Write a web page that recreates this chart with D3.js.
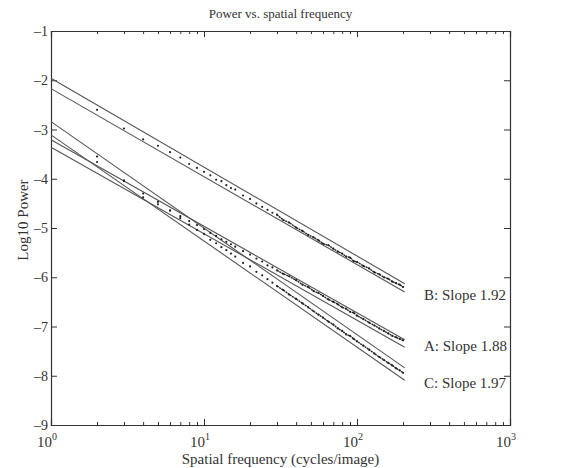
<!DOCTYPE html>
<html>
<head>
<meta charset="utf-8">
<script src="https://cdn.jsdelivr.net/npm/d3@7"></script>
<style>
  body { margin: 0; background: #fff; }
  svg { font-family: "Liberation Serif", "DejaVu Serif", serif; }
  .axis path { stroke: #333; }
  .axis line { stroke: #333; }
</style>
</head>
<body>
<svg width="569" height="468"></svg>
<script>
// DATA

var freq = [2,3,4,5,6,7,8,9,10,11,12,13,14,15,16,18,20,22,24,26,28,30,33,36,40,
            44,48,52,56,60,65,70,75,80,85,90,95,100,110,120,130,140,150,160,170,180,190,200];

var powerB = [-2.60,-2.98,-3.20,-3.33,-3.46,-3.57,-3.70,-3.78,-3.86,-3.93,-4.02,-4.05,-4.13,-4.19,-4.22,
              -4.34,-4.41,-4.50,-4.57,-4.63,-4.69,-4.73,-4.84,-4.89,-4.99,-5.06,-5.14,-5.19,-5.25,-5.32,
              -5.35,-5.42,-5.48,-5.52,-5.58,-5.60,-5.67,-5.69,-5.77,-5.82,-5.90,-5.94,-6.00,-6.03,-6.09,
              -6.12,-6.15,-6.20];

var powerA = [-3.66,-4.05,-4.38,-4.52,-4.64,-4.76,-4.86,-4.94,-5.02,-5.10,-5.16,-5.23,-5.28,-5.33,-5.38,
              -5.47,-5.54,-5.62,-5.68,-5.76,-5.80,-5.86,-5.93,-5.98,-6.06,-6.15,-6.20,-6.28,-6.32,-6.38,
              -6.45,-6.50,-6.55,-6.61,-6.64,-6.70,-6.72,-6.78,-6.85,-6.92,-6.98,-7.04,-7.09,-7.14,-7.19,
              -7.22,-7.25,-7.28];

var powerC = [-3.55,-4.03,-4.30,-4.47,-4.65,-4.80,-4.93,-5.04,-5.12,-5.24,-5.31,-5.39,-5.45,-5.52,-5.58,
              -5.71,-5.78,-5.89,-5.96,-6.04,-6.11,-6.18,-6.26,-6.35,-6.44,-6.53,-6.61,-6.69,-6.76,-6.82,
              -6.90,-6.96,-7.04,-7.09,-7.16,-7.19,-7.25,-7.30,-7.39,-7.47,-7.55,-7.62,-7.68,-7.74,-7.79,
              -7.85,-7.89,-7.94];

// fitted lines: value at f = 1 and at f = 200
var fitRange = [1, 205];
var fitStart = [-1.96, -2.17, -3.21, -3.36, -2.84, -3.11];
var fitEnd   = [-6.13, -6.30, -7.27, -7.42, -7.84, -8.09];

var labels = ["B: Slope 1.92", "A: Slope 1.88", "C: Slope 1.97"];
var labelAt = [-6.36, -7.40, -8.15];

var xTicks = [1, 10, 100, 1000];
var yTicks = [-9, -8, -7, -6, -5, -4, -3, -2, -1];

// SETUP

var svg = d3.select("svg");
var mLeft = 51, mRight = 510, mTop = 31, mBottom = 425;

var x = d3.scaleLog().domain([1, 1000]).range([mLeft, mRight]);
var y = d3.scaleLinear().domain([-9, -1]).range([mBottom, mTop]);

var minor = [];
[1, 10, 100].forEach(function(d) {
  for (var k = 2; k < 10; k++) minor.push(d * k);
});

// AXES (matlab style, ticks inside, box all round)

svg.append("g").attr("class", "axis")
    .attr("transform", "translate(0," + mBottom + ")")
    .call(d3.axisBottom(x).tickValues(xTicks).tickSize(-6).tickFormat(""));
svg.append("g").attr("class", "axis")
    .attr("transform", "translate(0," + mBottom + ")")
    .call(d3.axisBottom(x).tickValues(minor).tickSize(-3).tickFormat(""))
    .select(".domain").remove();
svg.append("g").attr("class", "axis")
    .attr("transform", "translate(0," + mTop + ")")
    .call(d3.axisTop(x).tickValues(xTicks).tickSize(-6).tickFormat(""));
svg.append("g").attr("class", "axis")
    .attr("transform", "translate(0," + mTop + ")")
    .call(d3.axisTop(x).tickValues(minor).tickSize(-3).tickFormat(""))
    .select(".domain").remove();
svg.append("g").attr("class", "axis")
    .attr("transform", "translate(" + mLeft + ",0)")
    .call(d3.axisLeft(y).tickValues(yTicks).tickSize(-6).tickFormat(""));
svg.append("g").attr("class", "axis")
    .attr("transform", "translate(" + mRight + ",0)")
    .call(d3.axisRight(y).tickValues(yTicks).tickSize(-6).tickFormat(""));

svg.selectAll("path.domain").attr("stroke-width", 1.2);

// tick labels
svg.append("g").selectAll("text")
    .data(yTicks)
  .enter().append("text")
    .attr("x", mLeft - 3)
    .attr("y", function(d) { return y(d) + 5; })
    .attr("text-anchor", "end")
    .attr("font-size", 14)
    .attr("fill", "#333")
    .text(function(d) { return "\u2013" + Math.abs(d); });

var xl = svg.append("g").selectAll("text")
    .data(xTicks)
  .enter().append("text")
    .attr("x", function(d) { return x(d) - 4; })
    .attr("y", mBottom + 22)
    .attr("text-anchor", "middle")
    .attr("font-size", 15)
    .attr("fill", "#333");
xl.append("tspan").text("10");
xl.append("tspan")
    .attr("dy", -7)
    .attr("font-size", 10)
    .text(function(d) { return Math.round(Math.log10(d)); });

svg.append("text")
    .attr("x", (mLeft + mRight) / 2)
    .attr("y", 18)
    .attr("text-anchor", "middle")
    .attr("font-size", 13)
    .attr("fill", "#333")
    .text("Power vs. spatial frequency");

svg.append("text")
    .attr("x", (mLeft + mRight) / 2)
    .attr("y", 464)
    .attr("text-anchor", "middle")
    .attr("font-size", 15)
    .attr("fill", "#333")
    .text("Spatial frequency (cycles/image)");

svg.append("text")
    .attr("transform", "translate(28," + 220 + ") rotate(-90)")
    .attr("text-anchor", "middle")
    .attr("font-size", 15)
    .attr("fill", "#333")
    .text("Log10 Power");

// FIT LINES

svg.append("g").selectAll("line")
    .data(fitStart)
  .enter().append("line")
    .attr("x1", x(fitRange[0]))
    .attr("x2", x(fitRange[1]))
    .attr("y1", function(d) { return y(d); })
    .attr("y2", function(d, i) { return y(fitEnd[i]); })
    .attr("stroke", "#555")
    .attr("stroke-width", 1.1);

// DATA POINTS

var series = [powerB, powerA, powerC];

var dense = d3.line()
    .defined(function(d, i) { return freq[i] >= 30; })
    .x(function(d, i) { return x(freq[i]); })
    .y(function(d) { return y(d); });

series.forEach(function(vals) {
  svg.append("path")
      .datum(vals)
      .attr("d", dense)
      .attr("fill", "none")
      .attr("stroke", "#222")
      .attr("stroke-width", 1.4)
      .attr("stroke-dasharray", "2,0.6");

  svg.append("g").selectAll("circle")
      .data(vals)
    .enter().append("circle")
      .attr("cx", function(d, i) { return x(freq[i]); })
      .attr("cy", function(d) { return y(d); })
      .attr("r", 1.1)
      .attr("fill", "#222");
});

// LABELS

svg.append("g").selectAll("text")
    .data(labels)
  .enter().append("text")
    .attr("x", 424)
    .attr("y", function(d, i) { return y(labelAt[i]) + 5; })
    .attr("font-size", 15)
    .attr("fill", "#333")
    .text(function(d) { return d; });
</script>
</body>
</html>
